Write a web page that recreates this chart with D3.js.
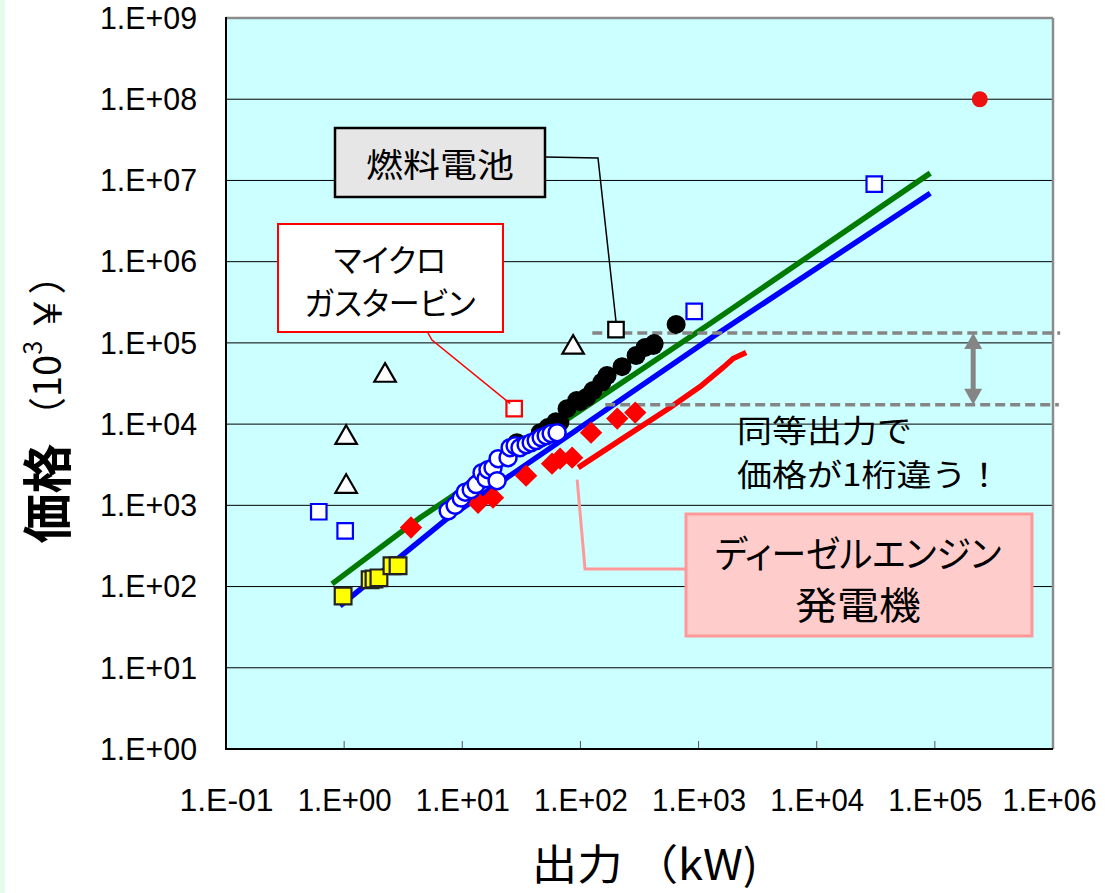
<!DOCTYPE html>
<html><head><meta charset="utf-8">
<script src="https://cdn.jsdelivr.net/npm/d3@7"></script>
<style>
html,body{margin:0;padding:0;background:#fff;}
svg{display:block;}
text{font-family:"Noto Sans CJK JP","Noto Sans",sans-serif;fill:#000;}
.palt{font-feature-settings:"palt";}
.tick text{font-family:"Liberation Sans",Arial,sans-serif;}
</style></head><body>
<svg id="chart" width="1105" height="893"></svg>
<script>
// ---------- data (x: 出力 kW, y: 価格 10^3 yen) ----------
const xTickValues = [0.1, 1, 10, 100, 1e3, 1e4, 1e5, 1e6];
const xTickLabels = ["1.E-01","1.E+00","1.E+01","1.E+02","1.E+03","1.E+04","1.E+05","1.E+06"];
const yTickValues = [1, 10, 100, 1e3, 1e4, 1e5, 1e6, 1e7, 1e8, 1e9];
const yTickLabels = ["1.E+00","1.E+01","1.E+02","1.E+03","1.E+04","1.E+05","1.E+06","1.E+07","1.E+08","1.E+09"];

const redCircle = [[2.4e5, 1.0e8]];
const blueSquares = [[3.07e4, 9.0e6], [919, 2.44e5], [0.61, 834], [1.02, 486]];
const triangles = [[86.7, 8.77e4], [2.22, 3.96e4], [1.04, 6.8e3], [1.04, 1.7e3]];
const fuelCellSquare = [[200, 1.46e5]];
const microTurbineSquare = [[27.5, 1.55e4]];
const yellowSquares = [[0.98, 76.7], [1.66, 121], [1.79, 124], [1.97, 128], [2.54, 180], [2.86, 180]];
const redDiamonds = [[3.68, 533], [12.8, 1845], [13.6, 1076], [18.2, 1242], [34.7, 2317], [57.5, 3258],
  [67.3, 3758], [85.1, 3866], [123, 7852], [205, 11700], [291, 13870]];
const blackCircles = [[29, 5910], [45.6, 7850], [53, 9060], [62, 1.07e4], [67, 1.05e4], [77, 1.55e4],
  [93, 1.95e4], [99, 1.89e4], [113, 2.14e4], [128, 2.59e4], [152, 3.27e4], [168, 3.96e4],
  [225, 5.1e4], [296, 7.0e4], [353, 8.8e4], [413, 9.3e4], [421, 9.8e4], [646, 1.69e5]];
const whiteCircles = [[7.6, 857], [8.7, 1000], [9.8, 1230], [10.6, 1450], [11.9, 1557], [13.1, 1800],
  [14.7, 2523], [15.9, 2128], [16.5, 2748], [18.2, 2911], [19.7, 2010], [20.1, 3758], [24.4, 3866],
  [25.4, 5129], [28.0, 5433], [30.8, 5129], [34.7, 5585], [38.3, 5916], [42.2, 6266], [46.5, 6823],
  [51.3, 7211], [56.5, 7637], [63.5, 7852]];

const greenLine = [[0.79, 108], [4.39, 703], [1254, 1.73e5], [9.14e4, 1.23e7]];
const blueLine = [[0.923, 57.8], [7.43, 684], [1254, 1.13e5], [9.14e4, 6.95e6]];
const dieselLine = [[95.7, 2910], [248, 7210], [575, 1.6e4], [1032, 2.9e4], [1616, 4.98e4], [1963, 6.42e4], [2530, 7.62e4]];

const refUpper = [[126, 1.32e5], [1.15e6, 1.32e5]];
const refLower = [[162, 1.73e4], [1.12e6, 1.73e4]];
const gapArrow = [[2.11e5, 1.32e5], [2.11e5, 1.73e4]];

const fuelCellText = ["燃料電池"];
const microText = ["マイクロ", "ガスタービン"];
const dieselText = ["ディーゼルエンジン", "発電機"];
const noteText = ["同等出力で", "価格が1桁違う！"];

// ---------- layout ----------
const W = 1105, H = 893;
const M = {left: 226, right: 1053, top: 18, bottom: 749};
const svg = d3.select("#chart");
svg.append("rect").attr("width", W).attr("height", H).attr("fill", "#fff");
svg.append("rect").attr("width", 5).attr("height", H).attr("fill", "#e4fbec");

const x = d3.scaleLog().domain([0.1, 1e6]).range([M.left, M.right]);
const y = d3.scaleLog().domain([1, 1e9]).range([M.bottom, M.top]);

svg.append("rect").attr("x", M.left).attr("y", M.top)
  .attr("width", M.right - M.left).attr("height", M.bottom - M.top).attr("fill", "#ccffff");

// gridlines
svg.append("g").selectAll("line").data(yTickValues.slice(1, -1)).join("line")
  .attr("x1", M.left).attr("x2", M.right).attr("y1", d => y(d)).attr("y2", d => y(d))
  .attr("stroke", "#000").attr("stroke-width", 1);
// inner x ticks
svg.append("g").selectAll("line").data(xTickValues.slice(1, -1)).join("line")
  .attr("x1", d => x(d)).attr("x2", d => x(d)).attr("y1", M.bottom - 8).attr("y2", M.bottom)
  .attr("stroke", "#555").attr("stroke-width", 1);

// axes
const yAxis = svg.append("g").attr("transform", `translate(${M.left},0)`)
  .call(d3.axisLeft(y).tickValues(yTickValues).tickFormat((d, i) => yTickLabels[i]).tickSize(0).tickPadding(29));
yAxis.select(".domain").remove();
yAxis.selectAll("text").attr("font-size", 32).attr("textLength", 97).attr("lengthAdjust", "spacingAndGlyphs").attr("fill", "#000");

const xAxis = svg.append("g").attr("transform", `translate(0,${M.bottom})`)
  .call(d3.axisBottom(x).tickValues(xTickValues).tickFormat((d, i) => xTickLabels[i]).tickSize(0).tickPadding(40));
xAxis.select(".domain").remove();
xAxis.selectAll("text").attr("font-size", 31).attr("textLength", 94).attr("lengthAdjust", "spacingAndGlyphs").attr("fill", "#000")
  .attr("x", (d, i) => i === xTickValues.length - 1 ? -4 : 0);

// borders
svg.append("line").attr("x1", M.left).attr("x2", M.right).attr("y1", M.top).attr("y2", M.top).attr("stroke", "#8c8c8c").attr("stroke-width", 2.5);
svg.append("line").attr("x1", M.right).attr("x2", M.right).attr("y1", M.top).attr("y2", M.bottom).attr("stroke", "#8c8c8c").attr("stroke-width", 2.5);
svg.append("line").attr("x1", M.left).attr("x2", M.left).attr("y1", M.top - 1).attr("y2", M.bottom + 1).attr("stroke", "#000").attr("stroke-width", 2);
svg.append("line").attr("x1", M.left).attr("x2", M.right).attr("y1", M.bottom).attr("y2", M.bottom).attr("stroke", "#000").attr("stroke-width", 2);

// fit lines
const line = d3.line().x(d => x(d[0])).y(d => y(d[1]));
svg.append("path").datum(greenLine).attr("d", line).attr("fill", "none").attr("stroke", "#007a00").attr("stroke-width", 5.5);
svg.append("path").datum(blueLine).attr("d", line).attr("fill", "none").attr("stroke", "#0000ff").attr("stroke-width", 5.5);
svg.append("path").datum(dieselLine).attr("d", line).attr("fill", "none").attr("stroke", "#ff0000").attr("stroke-width", 5.5);

// reference dashed lines + arrow
[refUpper, refLower].forEach(r => {
  svg.append("path").datum(r).attr("d", line).attr("fill", "none").attr("stroke", "#858585")
    .attr("stroke-width", 3.5).attr("stroke-dasharray", "10,5");
});
{
  const ax = x(gapArrow[0][0]), y1 = y(gapArrow[0][1]), y2 = y(gapArrow[1][1]);
  const hl = 16, hw = 9;
  svg.append("line").attr("x1", ax).attr("x2", ax).attr("y1", y1 + hl - 2).attr("y2", y2 - hl + 2)
    .attr("stroke", "#858585").attr("stroke-width", 5);
  svg.append("path").attr("d", `M${ax},${y1}L${ax - hw},${y1 + hl}L${ax + hw},${y1 + hl}Z`).attr("fill", "#858585");
  svg.append("path").attr("d", `M${ax},${y2}L${ax - hw},${y2 - hl}L${ax + hw},${y2 - hl}Z`).attr("fill", "#858585");
}

// markers
const sq = d3.symbol().type(d3.symbolSquare);
svg.append("g").selectAll("path").data(redDiamonds).join("path")
  .attr("d", sq.size(250)())
  .attr("transform", d => `translate(${x(d[0])},${y(d[1])}) rotate(45)`).attr("fill", "#ff0000");
svg.append("g").selectAll("circle").data(blackCircles).join("circle")
  .attr("cx", d => x(d[0])).attr("cy", d => y(d[1])).attr("r", 9.5).attr("fill", "#000");
svg.append("g").selectAll("circle").data(whiteCircles).join("circle")
  .attr("cx", d => x(d[0])).attr("cy", d => y(d[1])).attr("r", 8.5).attr("fill", "#fff")
  .attr("stroke", "#0000ff").attr("stroke-width", 2.5);
svg.append("g").selectAll("circle").data(redCircle).join("circle")
  .attr("cx", d => x(d[0])).attr("cy", d => y(d[1])).attr("r", 8).attr("fill", "#ee1111");
svg.append("g").selectAll("path").data(blueSquares).join("path")
  .attr("d", d3.symbol().type(d3.symbolSquare).size(240)())
  .attr("transform", d => `translate(${x(d[0])},${y(d[1])})`).attr("fill", "#fff")
  .attr("stroke", "#0000ff").attr("stroke-width", 2.2);
svg.append("g").selectAll("path").data(triangles).join("path")
  .attr("d", d3.symbol().type(d3.symbolTriangle).size(200)())
  .attr("transform", d => `translate(${x(d[0])},${y(d[1])})`).attr("fill", "#fff")
  .attr("stroke", "#000").attr("stroke-width", 2.2);
svg.append("g").selectAll("path").data(fuelCellSquare).join("path")
  .attr("d", d3.symbol().type(d3.symbolSquare).size(240)())
  .attr("transform", d => `translate(${x(d[0])},${y(d[1])})`).attr("fill", "#fff")
  .attr("stroke", "#000").attr("stroke-width", 2.2);
svg.append("g").selectAll("path").data(microTurbineSquare).join("path")
  .attr("d", d3.symbol().type(d3.symbolSquare).size(240)())
  .attr("transform", d => `translate(${x(d[0])},${y(d[1])})`).attr("fill", "#fff")
  .attr("stroke", "#ff0000").attr("stroke-width", 2.2);
svg.append("g").selectAll("path").data(yellowSquares).join("path")
  .attr("d", d3.symbol().type(d3.symbolSquare).size(280)())
  .attr("transform", d => `translate(${x(d[0])},${y(d[1])})`).attr("fill", "#ffff00")
  .attr("stroke", "#222").attr("stroke-width", 2.2);

// text helper: lines, centre x, first-line centre y, font size, per-line x-scale, line gap
function label(lines, cx, cy, size, sx, gap, anchor, cls) {
  const g = svg.append("g");
  lines.forEach((t, i) => {
    const s = Array.isArray(sx) ? sx[i] : sx;
    const f = Array.isArray(size) ? size[i] : size;
    g.append("text").attr("class", cls || "")
      .attr("transform", `translate(${cx},${cy + i * gap}) scale(${s},1)`)
      .attr("text-anchor", anchor || "middle").attr("dominant-baseline", "central")
      .attr("font-size", f).text(t);
  });
  return g;
}

// callout: fuel cell
svg.append("polyline").attr("points", [[545, 157], [598, 158], [x(fuelCellSquare[0][0]), y(fuelCellSquare[0][1]) - 8]].join(" "))
  .attr("fill", "none").attr("stroke", "#000").attr("stroke-width", 1.5);
svg.append("rect").attr("x", 335).attr("y", 128).attr("width", 210).attr("height", 69)
  .attr("fill", "#e6e6e6").attr("stroke", "#000").attr("stroke-width", 2.5);
label(fuelCellText, 440, 162, 33, 1.12, 0);

// callout: micro gas turbine
svg.append("polyline").attr("points", [[428, 333], [432, 340], [x(microTurbineSquare[0][0]) - 4, y(microTurbineSquare[0][1]) - 5]].join(" "))
  .attr("fill", "none").attr("stroke", "#ff0000").attr("stroke-width", 1.5);
svg.append("rect").attr("x", 278).attr("y", 224).attr("width", 225).attr("height", 108)
  .attr("fill", "#fff").attr("stroke", "#ff0000").attr("stroke-width", 2);
label(microText, 390, 258, 32, 0.97, 43, "middle", "palt");

// callout: diesel
svg.append("polyline").attr("points", [[x(dieselLine[0][0]) - 1, y(dieselLine[0][1]) + 12], [585, 569], [686, 569]].join(" "))
  .attr("fill", "none").attr("stroke", "#ff9999").attr("stroke-width", 3);
svg.append("rect").attr("x", 686).attr("y", 514).attr("width", 346).attr("height", 122)
  .attr("fill", "#ffcccc").attr("stroke", "#ff9999").attr("stroke-width", 3);
label(dieselText, 858, 552, [37, 38], [0.94, 1.1], 51, "middle", "palt");

// note
label(noteText, 737, 429, 31, 1.13, 44, "start");

// axis titles
label(["出力 （kW)"], 645, 862, 42, 1.08, 0);
{
  const g = svg.append("g").attr("transform", "translate(44,400) rotate(-90)");
  const t = g.append("text").attr("text-anchor", "middle").attr("dominant-baseline", "central").attr("font-size", 38);
  t.append("tspan").attr("font-size", 50).attr("font-weight", "bold").text("価格");
  t.append("tspan").text(" （10");
  t.append("tspan").attr("font-size", 25).attr("dy", -13).text("3");
  t.append("tspan").attr("dy", 13).text(" ￥）");
}
</script></body></html>
